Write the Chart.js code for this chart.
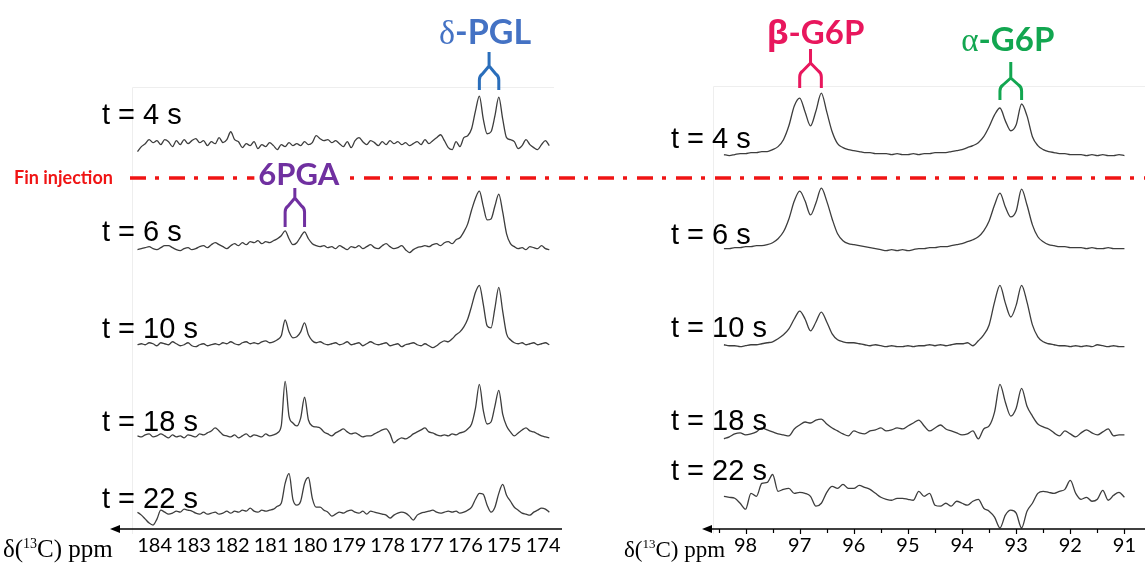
<!DOCTYPE html>
<html>
<head>
<meta charset="utf-8">
<script src="https://cdn.jsdelivr.net/npm/chart.js@4.4.0/dist/chart.umd.min.js"></script>
<style>
  html, body { margin: 0; padding: 0; background: #fff; }
  #wrap { position: relative; width: 1145px; height: 564px; }
  #wrap canvas { position: absolute; left: 0; top: 0; }
</style>
</head>
<body>
<div id="wrap">
  <canvas id="left" width="1145" height="564"></canvas>
  <canvas id="right" width="1145" height="564"></canvas>
</div>
<script>
// time labels of the stacked spectra (top to bottom)
var times = ['t = 4 s', 't = 6 s', 't = 10 s', 't = 18 s', 't = 22 s'];

// left panel: carboxyl region, ppm sampling
var leftPpm = [184.44,184.34,184.24,184.14,184.04,183.94,183.84,183.74,183.64,183.54,
  183.44,183.34,183.24,183.14,183.04,182.94,182.84,182.74,182.64,182.54,
  182.44,182.34,182.24,182.14,182.04,181.94,181.84,181.74,181.64,181.54,
  181.44,181.34,181.24,181.14,181.04,180.94,180.84,180.74,180.64,180.54,
  180.44,180.34,180.24,180.14,180.04,179.94,179.84,179.74,179.64,179.54,
  179.44,179.34,179.24,179.14,179.04,178.94,178.84,178.74,178.64,178.54,
  178.44,178.34,178.24,178.14,178.04,177.94,177.84,177.74,177.64,177.54,
  177.44,177.34,177.24,177.14,177.04,176.94,176.84,176.74,176.64,176.54,
  176.44,176.34,176.24,176.14,176.04,175.94,175.84,175.74,175.64,175.54,
  175.44,175.34,175.24,175.14,175.04,174.94,174.84,174.74,174.64,174.54,
  174.44,174.34,174.24,174.14,174.04,173.94,173.84];
var leftTicks = [184,183,182,181,180,179,178,177,176,175,174];

var left4 = [-8,-3,0,4,1,3,-1,4,2,-3, 3,-1,4,0,3,5,1,3,-2,2, 0,6,1,4,12,4,2,-4,0,-2,
  2,-5,-1,-3,1,-2,-6,-1,-3,1, -2,0,-2,2,-1,1,8,5,3,4, 1,3,0,-3,2,-4,3,6,2,-1,
  3,1,-2,2,-1,3,0,2,-1,1, -2,0,2,-1,4,0,3,6,9,3, -4,-6,2,-3,6,8,15,33,48,25,
  10,12,28,47,25,6,4,2,-5,-2, 4,-1,-4,-6,-1,3,-2];
var left6 = [-2,-1,0,1,-1,-2,0,2,2,0, -2,-3,-1,0,-2,-1,1,2,0,3, 5,3,1,-1,2,4,2,5,3,6,
  5,7,4,6,5,7,9,12,17,9, 3,5,11,16,9,4,2,1,2,0, 1,-1,2,0,-2,1,0,2,-1,1,
  3,0,-1,2,4,1,-1,0,2,-2, -5,-2,0,1,2,1,3,4,2,5, 6,4,8,10,16,24,38,50,57,42,
  28,29,42,54,36,14,4,1,-1,0, -2,1,0,-1,2,-1,-2];
var left10 = [-1,0,-1,1,0,-2,1,0,-1,2, 0,-2,-1,1,-2,-3,-1,0,-2,-1, 0,-1,1,0,2,0,-1,1,2,0,
  1,0,2,3,1,2,4,8,24,12, 6,7,12,21,9,3,1,2,0,-1, 0,1,-1,0,2,-1,0,1,-2,0,
  2,0,-1,0,1,-2,-1,0,-3,-1, 0,1,-1,-2,0,-2,-4,-2,1,3, 2,5,9,12,17,25,38,52,59,40,
  18,16,36,57,33,10,4,1,0,1, -1,0,1,-1,0,1,-1];
var left18 = [0,-1,1,2,-1,0,2,0,-2,1, -1,0,-2,1,0,-1,2,1,3,5, 8,5,1,0,-1,1,-2,0,2,-1,
  1,0,-1,2,0,1,3,10,55,20, 13,10,18,39,16,10,9,8,4,2, 0,3,5,7,4,2,3,1,-1,0,
  0,2,4,6,7,2,-7,-4,-2,-3, -1,2,4,6,8,4,3,1,0,1, 0,2,1,3,4,7,12,28,52,26,
  12,14,30,46,22,10,4,0,3,6, 8,5,4,2,0,-1,-2];
var left22 = [1,-2,-6,-10,-12,-6,3,1,-1,0, 2,1,4,3,2,0,-1,1,-1,0, 1,-1,0,2,0,2,1,3,2,5,
  2,1,3,2,3,4,7,10,30,40, 14,8,12,30,36,15,6,6,3,1, -3,-1,1,0,2,3,1,0,2,-1,
  2,1,0,-1,-2,-5,-2,0,1,0, -3,-7,-2,0,1,2,3,1,0,1, 2,1,2,0,1,3,6,14,20,19,
  8,1,6,20,29,18,12,6,3,0, -1,-2,1,3,5,4,1];

// right panel: anomeric region, ppm sampling
var rightPpm = [98.4,98.3,98.2,98.1,98.0,97.9,97.8,97.7,97.6,97.5,
  97.4,97.3,97.2,97.1,97.0,96.9,96.8,96.7,96.6,96.5,
  96.4,96.3,96.2,96.1,96.0,95.9,95.8,95.7,95.6,95.5,
  95.4,95.3,95.2,95.1,95.0,94.9,94.8,94.7,94.6,94.5,
  94.4,94.3,94.2,94.1,94.0,93.9,93.8,93.7,93.6,93.5,
  93.4,93.3,93.2,93.1,93.0,92.9,92.8,92.7,92.6,92.5,
  92.4,92.3,92.2,92.1,92.0,91.9,91.8,91.7,91.6,91.5,
  91.4,91.3,91.2,91.1,91.0];
var rightTicks = [98,97,96,95,94,93,92,91];

var right4 = [1,0,1,2,2,3,3,4,4,6, 9,16,30,50,58,44,30,45,63,44, 24,12,8,6,5,4,3,3,2,2,
  2,1,2,1,1,2,1,2,2,3, 3,3,4,5,6,8,10,13,19,29, 41,48,35,25,31,52,40,19,10,6,
  4,3,2,2,1,1,1,0,1,0, 1,0,0,1,0];
var right6 = [0,0,1,1,2,2,3,3,4,6, 10,17,30,48,58,48,34,46,61,48, 30,15,8,5,4,3,2,1,0,-1,
  -2,-1,-2,-1,-2,-1,0,0,1,1, 2,2,3,4,5,7,9,12,18,28, 44,56,42,32,38,60,44,24,12,7,
  4,3,2,2,1,1,1,0,1,0, 0,1,0,0,0];
var right10 = [2,1,1,0,1,2,2,3,4,5, 8,12,18,28,36,28,16,25,35,25, 13,7,5,4,4,3,2,1,2,1,
  0,1,0,0,1,0,1,1,2,1, 2,1,2,3,3,4,1,6,12,22, 45,62,44,30,42,62,45,22,10,5,
  3,2,1,1,0,1,0,1,0,2, 1,0,1,0,0];
var right18 = [-3,-1,2,3,1,2,4,8,6,4, 2,1,0,7,11,14,13,16,17,12, 8,5,2,0,5,3,2,5,6,8,
  5,6,8,7,10,13,16,10,5,8, 11,7,5,3,1,2,5,-3,7,10, 24,52,34,20,28,48,30,20,12,9,
  7,3,0,5,2,-1,3,6,3,1, 4,7,0,1,1];
var right22 = [1,0,-1,-6,-12,4,1,14,15,23, 6,8,9,4,5,4,1,-9,-6,5, 11,9,13,9,9,12,10,8,4,0,
  -2,-3,-1,-1,-2,-3,6,1,4,-8, -9,-6,-9,-4,-6,-8,-4,-2,-11,-14, -20,-31,-18,-13,-16,-31,-14,-6,4,6,
  5,4,6,8,17,4,-2,0,-4,-2, 7,-3,2,5,0];

// stacking offsets of each trace (y units) and label positions (px)
var leftOffsets = [389, 284, 187, 94, 16];
var rightOffsets = [377, 283, 184, 94, 32];
var leftLabelPos = [[102,124],[102,241],[102,338],[102,431],[102,508]];
var rightLabelPos = [[671,148],[671,244],[671,337],[671,430],[671,480]];

var leftMarks = [
  {greek:'δ', text:'-PGL', color:'#4472c4', line:'#2a6ebb', peaks:[175.64,175.14], dx:-4, base:44, top:52, join:66, legTop:76, bottom:90, size:34},
  {greek:'', text:'6PGA', color:'#7030a0', line:'#7030a0', peaks:[180.64,180.14], dx:4, base:185, top:188, join:198, legTop:208, bottom:227, size:31, box:true}
];
var rightMarks = [
  {greek:'β', text:'-G6P', color:'#e8175d', line:'#e8175d', peaks:[97.0,96.6], dx:5, base:44, top:49, join:63, legTop:73, bottom:88, size:33},
  {greek:'α', text:'-G6P', color:'#12a650', line:'#12a650', peaks:[93.3,92.9], dx:-3, base:51, top:62, join:78, legTop:87, bottom:100, size:33}
];

function makeSets(ppm, series, offsets) {
  return series.map(function(vals, k) {
    return {
      label: times[k],
      data: ppm.map(function(p, j) { return {x: p, y: offsets[k] + vals[j]}; }),
      borderColor: '#3d3d3d',
      borderWidth: 1.3,
      pointRadius: 0,
      fill: false,
      cubicInterpolationMode: 'monotone'
    };
  });
}

function drawBracket(ctx, cx, xs, m) {
  ctx.save();
  ctx.strokeStyle = m.line;
  ctx.lineWidth = 3;
  ctx.lineJoin = 'round';
  ctx.beginPath();
  ctx.moveTo(cx, m.top);
  ctx.lineTo(cx, m.join);
  xs.forEach(function(lx) {
    var s = lx < cx ? 1 : -1;
    ctx.moveTo(cx, m.join);
    ctx.lineTo(lx + s * 3, m.legTop - 2);
    ctx.quadraticCurveTo(lx, m.legTop, lx, m.legTop + 4);
    ctx.lineTo(lx, m.bottom);
  });
  ctx.stroke();
  ctx.restore();
}

function drawMark(ctx, xScale, m) {
  var xs = m.peaks.map(function(p) { return xScale.getPixelForValue(p); });
  var cx = (xs[0] + xs[1]) / 2;
  var gFont = m.size + 'px "Liberation Serif"';
  if (m.greek === 'β') gFont = 'bold ' + m.size + 'px "Open Sans"';
  var tFont = 'bold ' + m.size + 'px Lato';
  ctx.save();
  ctx.font = gFont;
  var w1 = m.greek ? ctx.measureText(m.greek).width : 0;
  ctx.font = tFont;
  var w2 = ctx.measureText(m.text).width;
  var x = cx + m.dx - (w1 + w2) / 2;
  if (m.box) {
    ctx.fillStyle = '#fff';
    ctx.fillRect(x - 4, m.base - m.size * 0.78, w1 + w2 + 8, m.size * 0.9);
  }
  ctx.fillStyle = m.color;
  ctx.textAlign = 'left';
  ctx.textBaseline = 'alphabetic';
  if (m.greek) { ctx.font = gFont; ctx.fillText(m.greek, x, m.base); }
  ctx.font = tFont;
  ctx.fillText(m.text, x + w1, m.base);
  ctx.restore();
  drawBracket(ctx, cx, xs, m);
}

function drawAxis(ctx, area, y) {
  ctx.save();
  ctx.strokeStyle = '#000';
  ctx.fillStyle = '#000';
  ctx.lineWidth = 1.7;
  ctx.beginPath();
  ctx.moveTo(area.left + 6, y);
  ctx.lineTo(area.right, y);
  ctx.stroke();
  ctx.beginPath();
  ctx.moveTo(area.left, y);
  ctx.lineTo(area.left + 10, y - 4);
  ctx.lineTo(area.left + 10, y + 4);
  ctx.closePath();
  ctx.fill();
  ctx.restore();
}

function drawPpmTitle(ctx, x, base, size) {
  ctx.save();
  ctx.fillStyle = '#000';
  ctx.textBaseline = 'alphabetic';
  ctx.font = size + 'px "Liberation Serif"';
  ctx.fillText('δ(', x, base);
  var w = ctx.measureText('δ(').width;
  ctx.font = Math.round(size * 0.58) + 'px "Liberation Serif"';
  ctx.fillText('13', x + w, base - size * 0.37);
  w += ctx.measureText('13').width;
  ctx.font = size + 'px "Liberation Serif"';
  ctx.fillText('C) ppm', x + w, base);
  ctx.restore();
}

function drawTimes(ctx, pos) {
  ctx.save();
  ctx.fillStyle = '#000';
  ctx.font = '29px "Liberation Sans"';
  ctx.textBaseline = 'alphabetic';
  times.forEach(function(t, k) { ctx.fillText(t, pos[k][0], pos[k][1]); });
  ctx.restore();
}

var leftDecor = {
  id: 'leftDecor',
  beforeDatasetsDraw: function(chart) {
    var ctx = chart.ctx;
    ctx.save();
    ctx.strokeStyle = '#eeeeee';
    ctx.lineWidth = 1;
    ctx.beginPath();
    ctx.moveTo(132.5, 534); ctx.lineTo(132.5, 87.5); ctx.lineTo(554, 87.5);
    ctx.stroke();
    ctx.restore();
  },
  afterDraw: function(chart) {
    var ctx = chart.ctx, area = chart.chartArea, xs = chart.scales.x;
    drawAxis(ctx, area, area.bottom);
    drawPpmTitle(ctx, 3, 557, 25);
    drawTimes(ctx, leftLabelPos);
    // end of injection marker
    ctx.save();
    ctx.strokeStyle = '#f01414';
    ctx.lineWidth = 3.5;
    ctx.setLineDash([16, 9, 4, 10]);
    ctx.beginPath();
    ctx.moveTo(130, 178);
    ctx.lineTo(1145, 178);
    ctx.stroke();
    ctx.setLineDash([]);
    ctx.fillStyle = '#f01414';
    ctx.font = 'bold 18px Lato';
    ctx.fillText('Fin injection', 14, 184);
    ctx.restore();
    leftMarks.forEach(function(m) { drawMark(ctx, xs, m); });
  }
};

var rightDecor = {
  id: 'rightDecor',
  beforeDatasetsDraw: function(chart) {
    var ctx = chart.ctx;
    ctx.save();
    ctx.strokeStyle = '#eeeeee';
    ctx.lineWidth = 1;
    ctx.beginPath();
    ctx.moveTo(713.5, 534); ctx.lineTo(713.5, 86.5); ctx.lineTo(1145, 86.5);
    ctx.stroke();
    ctx.restore();
  },
  afterDraw: function(chart) {
    var ctx = chart.ctx, area = chart.chartArea, xs = chart.scales.x;
    drawAxis(ctx, area, area.bottom);
    ctx.save();
    ctx.strokeStyle = '#000';
    ctx.lineWidth = 1.2;
    rightTicks.forEach(function(v) {
      var px = Math.round(xs.getPixelForValue(v)) + 0.5;
      ctx.beginPath(); ctx.moveTo(px, area.bottom); ctx.lineTo(px, area.bottom + 5); ctx.stroke();
      var mx = Math.round(xs.getPixelForValue(v + 0.5)) + 0.5;
      ctx.beginPath(); ctx.moveTo(mx, area.bottom); ctx.lineTo(mx, area.bottom + 4); ctx.stroke();
    });
    ctx.restore();
    drawPpmTitle(ctx, 624, 557, 23);
    drawTimes(ctx, rightLabelPos);
    rightMarks.forEach(function(m) { drawMark(ctx, xs, m); });
  }
};

function baseOptions(min, max, ticks, padL, padR) {
  return {
    responsive: false,
    animation: false,
    events: [],
    layout: { padding: { left: padL, right: padR, top: 0, bottom: 1 } },
    plugins: { legend: { display: false }, tooltip: { enabled: false } },
    scales: {
      x: {
        type: 'linear', reverse: true, min: min, max: max,
        grid: { display: false, drawTicks: false },
        border: { display: false },
        afterBuildTicks: function(scale) {
          scale.ticks = ticks.map(function(v) { return { value: v }; });
        },
        ticks: { padding: 5, color: '#000', font: { family: 'Lato', size: 20 }, maxRotation: 0, autoSkip: false }
      },
      y: { display: false, min: 0, max: 534 }
    }
  };
}

new Chart(document.getElementById('left').getContext('2d'), {
  type: 'line',
  data: { datasets: makeSets(leftPpm, [left4, left6, left10, left18, left22], leftOffsets) },
  options: baseOptions(173.513, 185.148, leftTicks, 110, 583),
  plugins: [leftDecor]
});

new Chart(document.getElementById('right').getContext('2d'), {
  type: 'line',
  data: { datasets: makeSets(rightPpm, [right4, right6, right10, right18, right22], rightOffsets) },
  options: baseOptions(90.62, 98.805, rightTicks, 702, 0),
  plugins: [rightDecor]
});
</script>
</body>
</html>
